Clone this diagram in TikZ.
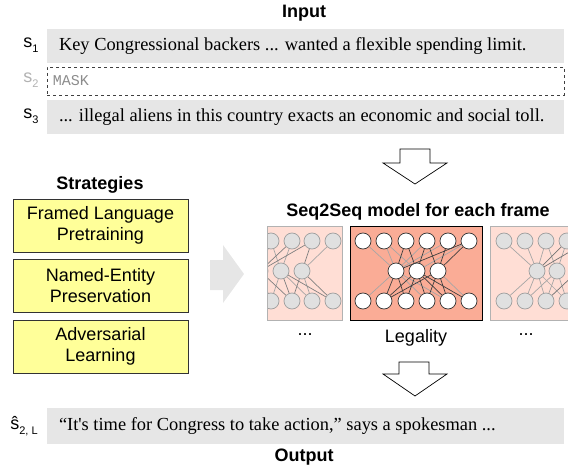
\documentclass[tikz,border=0pt]{standalone}
\usepackage{fontspec}
\setmainfont{Liberation Serif}
\setsansfont{Liberation Sans}
\setmonofont{Liberation Mono}
\usepackage{textcomp}
\usetikzlibrary{positioning,calc}

\definecolor{barcol}{RGB}{230,230,230}
\definecolor{boxyellow}{RGB}{255,255,153}
\definecolor{salmon}{RGB}{250,172,150}
\definecolor{palesalmon}{RGB}{255,222,213}
\definecolor{nodegray}{RGB}{224,224,224}

\newcommand{\slab}[2]{{\fontsize{18}{20}\selectfont #1}\raisebox{-5pt}{\fontsize{11}{12}\selectfont #2}}

\begin{document}
\begin{tikzpicture}[x=1pt,y=-1pt,
  every node/.style={font=\sffamily\fontsize{18}{20}\selectfont},
  title/.style={font=\sffamily\bfseries\fontsize{18}{20}\selectfont},
  bar/.style={fill=barcol, minimum width=517pt, minimum height=34pt, inner sep=0pt},
  sent/.style={font=\rmfamily\fontsize{18.4}{20}\selectfont, inner xsep=12pt},
  strat/.style={draw=black!80, line width=0.8pt, fill=boxyellow, minimum width=175pt,
    minimum height=53pt, align=center, inner sep=1pt, font=\sffamily\fontsize{18}{21}\selectfont},
  neuron/.style={circle, draw=black!80, fill=white, line width=0.7pt, minimum size=16pt, inner sep=0pt},
  fadeneuron/.style={circle, draw=black!38, fill=nodegray, line width=0.7pt, minimum size=16pt, inner sep=0pt},
  dark/.style={draw=black!75, line width=0.7pt},
  light/.style={draw=black!35, line width=0.7pt},
  blockarrow/.style={draw=black, line width=0.7pt, fill=white}]

  \useasboundingbox (0,0) rectangle (568,468);

  % input sentences
  \node[title] (input) at (304,13) {Input};
  \node[bar] (b1) at (305.5,46) {};
  \node[draw=black!75, dashed, line width=0.7pt, minimum width=517pt, minimum height=28pt, inner sep=0pt] (b2) at (305.5,81) {};
  \node[bar] (b3) at (305.5,117) {};
  \node[sent, right] at (b1.west) {Key Congressional backers ... wanted a flexible spending limit.};
  \node[font=\ttfamily\fontsize{15}{16}\selectfont, text=black!45, right, inner xsep=6pt] at (b2.west) {MASK};
  \node[sent, right] at (b3.west) {... illegal aliens in this country exacts an economic and social toll.};
  \node (s1) at (31,45) {\slab{s}{1}};
  \node[text=black!30] (s2) at (31,80) {\slab{s}{2}};
  \node (s3) at (31,116) {\slab{s}{3}};

  \draw[blockarrow] (400,149) -- (430,149) -- (430,163) -- (447,163) -- (415,184) -- (383,163) -- (400,163) -- cycle;

  % strategies
  \node[title] (strategies) at (100,185) {Strategies};
  \node[strat] (flp) at (100.5,225.5) {Framed Language\\Pretraining};
  \node[strat] (nep) at (100.5,286) {Named-Entity\\Preservation};
  \node[strat] (adv) at (100.5,346.5) {Adversarial\\Learning};

  \fill[barcol] (210,260) -- (223,260) -- (223,245) -- (244,274) -- (223,303) -- (223,290) -- (210,290) -- cycle;

  % seq2seq models
  \node[title] (seqtitle) at (418,212) {Seq2Seq model for each frame};

  % left (faded) frame
  \begin{scope}
    \clip (267,226) rectangle (342,320);
    \fill[palesalmon] (267,226) rectangle (342,320);
    \foreach \n/\x in {0/250,1/271,2/292,3/312,4/333} {
      \node[fadeneuron] (lt\n) at (\x,241) {};
      \node[fadeneuron] (lb\n) at (\x,301) {};
    }
    \foreach \n/\x in {0/260,1/281,2/302}
      \node[fadeneuron] (lm\n) at (\x,271) {};
    \foreach \a/\b in {lt1/lm1,lt2/lm1,lt4/lm2,lm1/lb1,lm2/lb3,lt1/lm0,lm0/lb1,lm1/lb3}
      \draw[light] (\a) -- (\b);
    \foreach \a/\b in {lt3/lm0,lt2/lm0,lt3/lm2,lm1/lb2,lm2/lb2,lm1/lb4,lm2/lb4,lm0/lb2}
      \draw[dark,draw=black!50] (\a) -- (\b);
  \end{scope}
  \draw[black!30, line width=0.8pt] (267,226) rectangle (342,320);

  % centre frame
  \node[draw=black, line width=0.9pt, fill=salmon, minimum width=132pt, minimum height=94pt, inner sep=0pt] (frame) at (416,273) {};
  \foreach \n/\x in {1/363,2/384,3/406,4/427,5/448,6/469} {
    \node[neuron] (t\n) at (\x,241) {};
    \node[neuron] (u\n) at (\x,301) {};
  }
  \foreach \n/\x in {1/396,2/417,3/438}
    \node[neuron] (m\n) at (\x,271) {};
  \foreach \a/\b in {t1/m1,t2/m1,t4/m1,t5/m1,t6/m2,m1/u1,m1/u4,m3/u6,m1/u5,t2/m2}
    \draw[light] (\a) -- (\b);
  \foreach \a/\b in {t3/m1,t3/m2,t4/m2,t4/m3,t5/m3,t6/m1,t6/m3,m1/u2,m1/u3,m2/u2,m2/u3,m2/u4,m2/u5,m2/u6,m3/u4,m3/u5,m3/u2}
    \draw[dark] (\a) -- (\b);

  % right (faded) frame
  \begin{scope}
    \clip (490,226) rectangle (569,320);
    \fill[palesalmon] (490,226) rectangle (569,320);
    \foreach \n/\x in {1/504,2/525,3/546,4/567,5/588} {
      \node[fadeneuron] (rt\n) at (\x,241) {};
      \node[fadeneuron] (rb\n) at (\x,301) {};
    }
    \foreach \n/\x in {1/537,2/557,3/578}
      \node[fadeneuron] (rm\n) at (\x,271) {};
    \foreach \a/\b in {rt1/rm1,rt2/rm1,rt3/rm1,rt3/rm2,rm1/rb1,rm1/rb2,rm1/rb3,rm1/rb4,rm2/rb2,rm2/rb3,rm2/rb4,rt4/rm2}
      \draw[light] (\a) -- (\b);
    \foreach \a/\b in {rt4/rm1,rt5/rm1,rm3/rb3}
      \draw[dark,draw=black!55] (\a) -- (\b);
  \end{scope}
  \draw[black!30, line width=0.8pt] (569,226) -- (490,226) -- (490,320) -- (569,320);

  \node (dotsl) at (305,335) {...};
  \node (legality) at (416,338) {Legality};
  \node (dotsr) at (526,335) {...};

  \draw[blockarrow] (399,362) -- (429,362) -- (429,374) -- (447,374) -- (415,396) -- (383,374) -- (399,374) -- cycle;

  % output
  \node[bar, minimum height=36pt] (bout) at (305.5,426) {};
  \node[sent, right] at (bout.west) {``It\textquotesingle s time for Congress to take action,'' says a spokesman ...};
  \node (shat) at (24,426) {\slab{\^{s}}{2, L}};
  \node[title] (output) at (304,457) {Output};
\end{tikzpicture}
\end{document}
